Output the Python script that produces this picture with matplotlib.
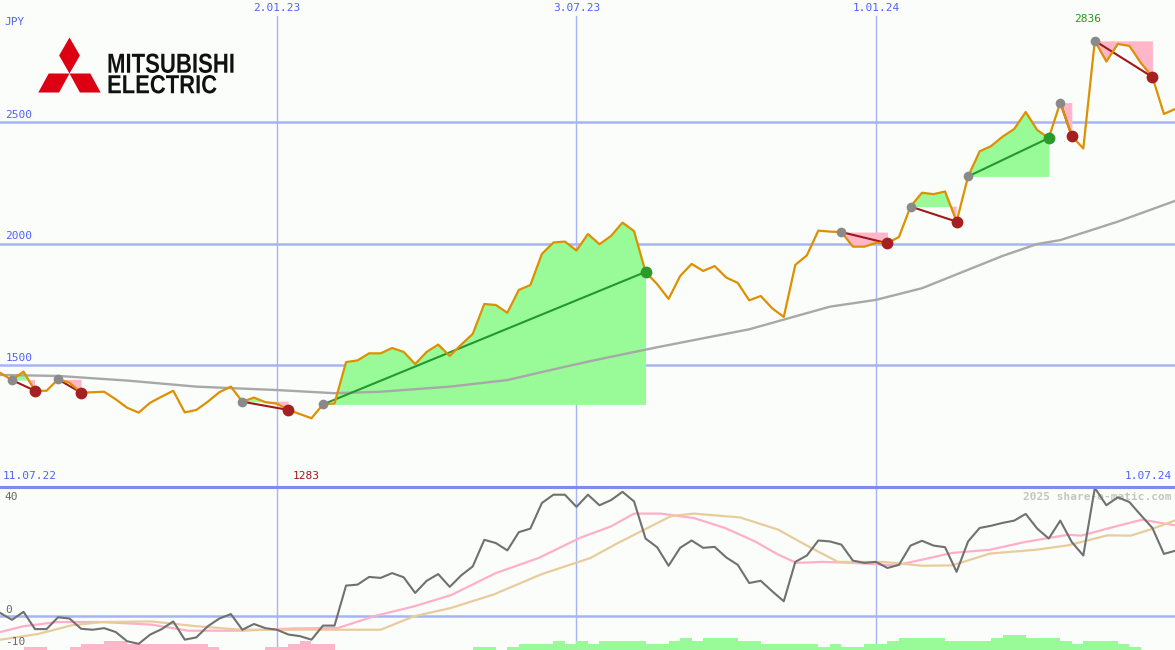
import numpy as np
import pandas as pd
import matplotlib
matplotlib.use('Agg')
import matplotlib.pyplot as plt
from matplotlib.patches import Polygon, PathPatch
from matplotlib.textpath import TextPath
from matplotlib.font_manager import FontProperties
from matplotlib.transforms import Affine2D

# weekly closes in JPY, first week = 18.07.22
start = pd.Timestamp('2022-07-18')
price = [1469, 1440, 1475, 1396, 1396, 1443, 1429, 1388, 1390, 1392,
         1361, 1326, 1306, 1347, 1372, 1396, 1307, 1317, 1351, 1390,
         1413, 1351, 1368, 1349, 1343, 1317, 1300, 1283, 1340, 1344,
         1514, 1521, 1550, 1550, 1572, 1556, 1506, 1556, 1586, 1539,
         1586, 1630, 1753, 1749, 1717, 1811, 1831, 1959, 2006, 2010,
         1973, 2041, 1999, 2033, 2088, 2053, 1885, 1835, 1774, 1868,
         1918, 1889, 1909, 1862, 1840, 1768, 1786, 1735, 1700, 1914,
         1953, 2055, 2051, 2049, 1989, 1989, 2005, 2003, 2029, 2154,
         2211, 2205, 2216, 2092, 2278, 2381, 2403, 2442, 2473, 2543,
         2469, 2436, 2582, 2444, 2393, 2836, 2751, 2823, 2815, 2745,
         2687, 2535, 2556]

# long moving average (week, value)
ma_week = [0, 5, 11, 17, 24, 29, 33, 39, 44, 48, 51, 57, 65, 72, 76, 80, 87, 90, 92, 97, 102]
ma_val = [1461, 1457, 1438, 1413, 1399, 1386, 1392, 1413, 1440, 1484, 1516, 1575,
          1649, 1742, 1770, 1818, 1951, 2000, 2016, 2092, 2178]

# trades: (entry week, exit week)
trades = [(1, 3), (5, 7), (21, 25), (28, 56), (73, 77), (79, 83), (84, 91), (92, 93), (95, 100)]

# oscillator (weekly)
osc = [0.9, -1.2, 1.3, -4.1, -4.1, -0.4, -0.8, -4.0, -4.3, -3.8,
       -5.0, -7.9, -8.7, -5.8, -4.1, -1.7, -7.4, -6.7, -3.2, -0.8,
       0.6, -4.3, -2.5, -3.8, -4.3, -5.8, -6.3, -7.4, -3.0, -3.0,
       9.5, 9.8, 12.2, 11.9, 13.4, 12.1, 7.2, 11.0, 13.1, 9.1,
       12.7, 15.5, 23.8, 22.8, 20.5, 26.2, 27.3, 35.3, 37.9, 37.9,
       34.1, 37.9, 34.6, 36.2, 38.8, 35.8, 24.2, 21.5, 15.7, 21.3,
       23.6, 21.3, 21.6, 18.3, 16.0, 10.3, 11.0, 7.7, 4.6, 16.9,
       18.9, 23.6, 23.3, 22.3, 17.3, 16.6, 16.9, 15.0, 16.0, 22.0,
       23.5, 22.0, 21.5, 13.8, 23.3, 27.5, 28.2, 29.1, 29.8, 31.9,
       27.3, 24.2, 29.8, 23.1, 18.9, 40.0, 34.6, 37.1, 35.6, 31.5,
       27.5, 19.4, 20.4]

fast_week = [0, 2, 4.9, 8.8, 13.1, 16.3, 20.9, 25.4, 29.3, 32.6, 35.9, 39.1, 43, 46.7, 50.3,
             53, 55, 57.3, 60.2, 62.9, 65.5, 67.5, 69.1, 71.4, 74, 77.7, 80, 82.6, 85.9,
             88.9, 92.7, 93.8, 96.5, 99.1, 102]
fast_val = [-5, -3.2, -1.9, -1.9, -2.7, -4.6, -4.6, -3.9, -3.75, 0.1, 3, 6.5, 13.4, 18.1, 24.4,
            28, 32, 32, 30.6, 27.5, 23.3, 19.2, 16.6, 16.9, 16.6, 15.8, 17.6, 19.7, 20.7,
            23.1, 25.4, 25.1, 27.7, 30.1, 28.3]
slow_week = [0, 3.3, 6.2, 8.8, 13.1, 17, 20.9, 27.1, 30.7, 33, 35.9, 39.1, 42.8, 47, 51.2,
             53.6, 58.2, 60.2, 64.2, 67.5, 70.1, 72.7, 76.7, 80, 82.6, 85.9, 89.9, 92.7,
             96.1, 98.1, 99.8, 102]
slow_val = [-7.4, -5.6, -2.9, -1.9, -1.7, -3.2, -4.3, -4.3, -4.3, -4.3, -0.1, 2.5, 6.7, 13.1, 18.1,
            22.8, 31.2, 32, 30.8, 27, 21.8, 16.9, 16.9, 15.7, 15.8, 19.5, 20.7, 22.1,
            25.2, 25.1, 27, 29.9]

# histogram strip (signed levels per week)
hist = [0, 0, -1, -1, 0, 0, -1, -2, -2, -3, -3, -2, -2, -2, -2, -2, -2, -2, -1, 0,
        0, 0, 0, -1, -1, -2, -3, -2, -2, 0, 0, 0, 0, 0, 0, 0, 0, 0, 0, 0,
        0, 1, 1, 0, 1, 2, 2, 2, 3, 2, 3, 2, 3, 3, 3, 3, 2, 2, 3, 4,
        3, 4, 4, 4, 3, 3, 2, 2, 2, 2, 2, 1, 2, 1, 1, 2, 2, 3, 4, 4,
        4, 4, 3, 3, 3, 3, 4, 5, 5, 4, 4, 4, 3, 2, 3, 3, 3, 2, 1, 0,
        0, 0, 0]

date_ticks = ['2023-01-02', '2023-07-03', '2024-01-01']
date_labels = ['2.01.23', '3.07.23', '1.01.24']
price_grid = [1500, 2000, 2500]

weeks = np.arange(len(price))
price = np.array(price, dtype=float)

bg = '#fbfdfb'
grid_c = '#a6b4f4'
lab_c = '#5062f8'
mono = 'DejaVu Sans Mono'

fig = plt.figure(figsize=(11.75, 6.5), dpi=100)
fig.patch.set_facecolor(bg)
ax2 = fig.add_axes([0, 0, 1, 163 / 650])
ax = fig.add_axes([0, 163 / 650, 1, 487 / 650])
for a in (ax, ax2):
    a.set_facecolor(bg)
    a.set_xlim(-0.04, 101.96)
    a.set_xticks([])
    a.set_yticks([])
    for s in a.spines.values():
        s.set_visible(False)
ax.set_ylim(1000, 3004)
ax2.set_ylim(-10.63, 40.31)

# grid
for v in price_grid:
    ax.axhline(v, color=grid_c, lw=1.8, zorder=1)
    ax.annotate(str(v), xy=(0, v), xycoords=('axes fraction', 'data'), xytext=(4, 2),
                textcoords='offset points', fontsize=8, family=mono, color=lab_c, va='bottom')
tick_w = [(pd.Timestamp(d) - start).days / 7 for d in date_ticks]
for w, lab in zip(tick_w, date_labels):
    ax.axvline(w, ymax=1 - 16 / 487, color=grid_c, lw=1, zorder=1)
    ax2.axvline(w, color=grid_c, lw=1, zorder=1)
    ax.text(w, 1 - 3 / 487, lab, transform=ax.get_xaxis_transform(), ha='center', va='top',
            fontsize=8, family=mono, color=lab_c)
ax.text(0.004, 1 - 17 / 487, 'JPY', transform=ax.transAxes, ha='left', va='top',
        fontsize=8, family=mono, color=lab_c)
ax.annotate('11.07.22', xy=(0, 1000), xycoords=('axes fraction', 'data'), xytext=(2, 4),
            textcoords='offset points', fontsize=8, family=mono, color=lab_c, va='bottom')
ax.annotate('1.07.24', xy=(1, 1000), xycoords=('axes fraction', 'data'), xytext=(-2, 4),
            textcoords='offset points', fontsize=8, family=mono, color=lab_c, va='bottom', ha='right')
ax.axhline(1000, color='#7a8cf0', lw=2.2, zorder=10, clip_on=False)

# trades
for e, x_ in trades:
    sw = weeks[e:x_ + 1]
    sp = price[e:x_ + 1]
    lvl = price[e]
    ax.fill_between(sw, sp, lvl, where=sp >= lvl, interpolate=True, color='#98fb98', lw=0, zorder=2)
    ax.fill_between(sw, sp, lvl, where=sp <= lvl, interpolate=True, color='#ffb6c8', lw=0, zorder=2)
    win = price[x_] > lvl
    lc = '#22992a' if win else '#a01818'
    dc = '#2a9a2a' if win else '#a52020'
    ax.plot([e, x_], [lvl, price[x_]], color=lc, lw=1.5, zorder=4)
    ax.plot(e, lvl, 'o', color='#8a8a8a', ms=7, mew=0, zorder=6)
    ax.plot(x_, price[x_], 'o', color=dc, ms=8.5, mew=0, zorder=6)

ax.plot(ma_week, ma_val, color='#a8a8a8', lw=1.7, zorder=3)
ax.plot(weeks, price, color='#dd9000', lw=1.6, zorder=5)

hi = int(np.argmax(price))
lo = int(np.argmin(price))
ax.annotate(f'{price[hi]:.0f}', xy=(hi, price[hi]), xytext=(-5, 12), textcoords='offset points',
            ha='center', va='bottom', fontsize=8, family=mono, color='#1e9a1e')
ax.annotate(f'{price[lo]:.0f}', xy=(lo, 1000), xytext=(-4, 4), textcoords='offset points',
            ha='center', va='bottom', fontsize=8, family=mono, color='#a01818')

# lower panel
ax2.axhline(0, color=grid_c, lw=1.8, zorder=1)
hist = np.array(hist)
ax2.bar(weeks, np.abs(hist) * 0.95, width=1, align='edge', bottom=-10.63,
        color=np.where(hist > 0, '#98fb98', '#ffb6c8'), lw=0, zorder=2)
ax2.plot(fast_week, fast_val, color='#ffb0c8', lw=1.6, zorder=3)
ax2.plot(slow_week, slow_val, color='#e8cc9c', lw=1.6, zorder=3)
ax2.plot(weeks, osc, color='#707070', lw=1.5, zorder=4)
ax2.text(0.004, 40.31 - 1.6, '40', fontsize=8, family=mono, color='#666666', va='top',
         transform=ax2.get_yaxis_transform())
for v in (0, -10):
    ax2.annotate(str(v), xy=(0, v), xycoords=('axes fraction', 'data'), xytext=(4, 1),
                 textcoords='offset points', fontsize=8, family=mono, color='#666666', va='bottom')
ax2.text(0.997, 40.31 - 1.6, '2025 share-o-matic.com', transform=ax2.get_yaxis_transform(),
         ha='right', va='top', fontsize=8, family=mono, fontweight='bold', color='#c4c4c4')

# logo
lg = fig.add_axes([0, 0, 1, 1], zorder=20)
lg.set_xlim(0, 1175)
lg.set_ylim(650, 0)
lg.axis('off')
lg.patch.set_alpha(0)
red = '#dc0012'
cx, cy, s = 69.5, 73.5, 20.8
h = s * np.sqrt(3)
lg.add_patch(Polygon([(cx, cy), (cx - s / 2, cy - h / 2), (cx, cy - h), (cx + s / 2, cy - h / 2)], color=red, lw=0))
lg.add_patch(Polygon([(cx, cy), (cx - s, cy), (cx - 1.5 * s, cy + h / 2 + 1), (cx - s / 2, cy + h / 2 + 1)], color=red, lw=0))
lg.add_patch(Polygon([(cx, cy), (cx + s, cy), (cx + 1.5 * s, cy + h / 2 + 1), (cx + s / 2, cy + h / 2 + 1)], color=red, lw=0))

fp = FontProperties(family=['Liberation Sans', 'DejaVu Sans'], weight='bold')
for word, x0, y0, wid, ht in [('MITSUBISHI', 108.5, 73, 125, 19.5), ('ELECTRIC', 108.5, 93.5, 108, 18.5)]:
    tp = TextPath((0, 0), word, size=1, prop=fp)
    bb = tp.get_extents()
    tr = Affine2D().translate(-bb.x0, -bb.y0).scale(wid / bb.width, -ht / bb.height).translate(x0, y0)
    lg.add_patch(PathPatch(tr.transform_path(tp), color='#111111', lw=0))

fig.savefig('out.png', dpi=100, facecolor=bg)
